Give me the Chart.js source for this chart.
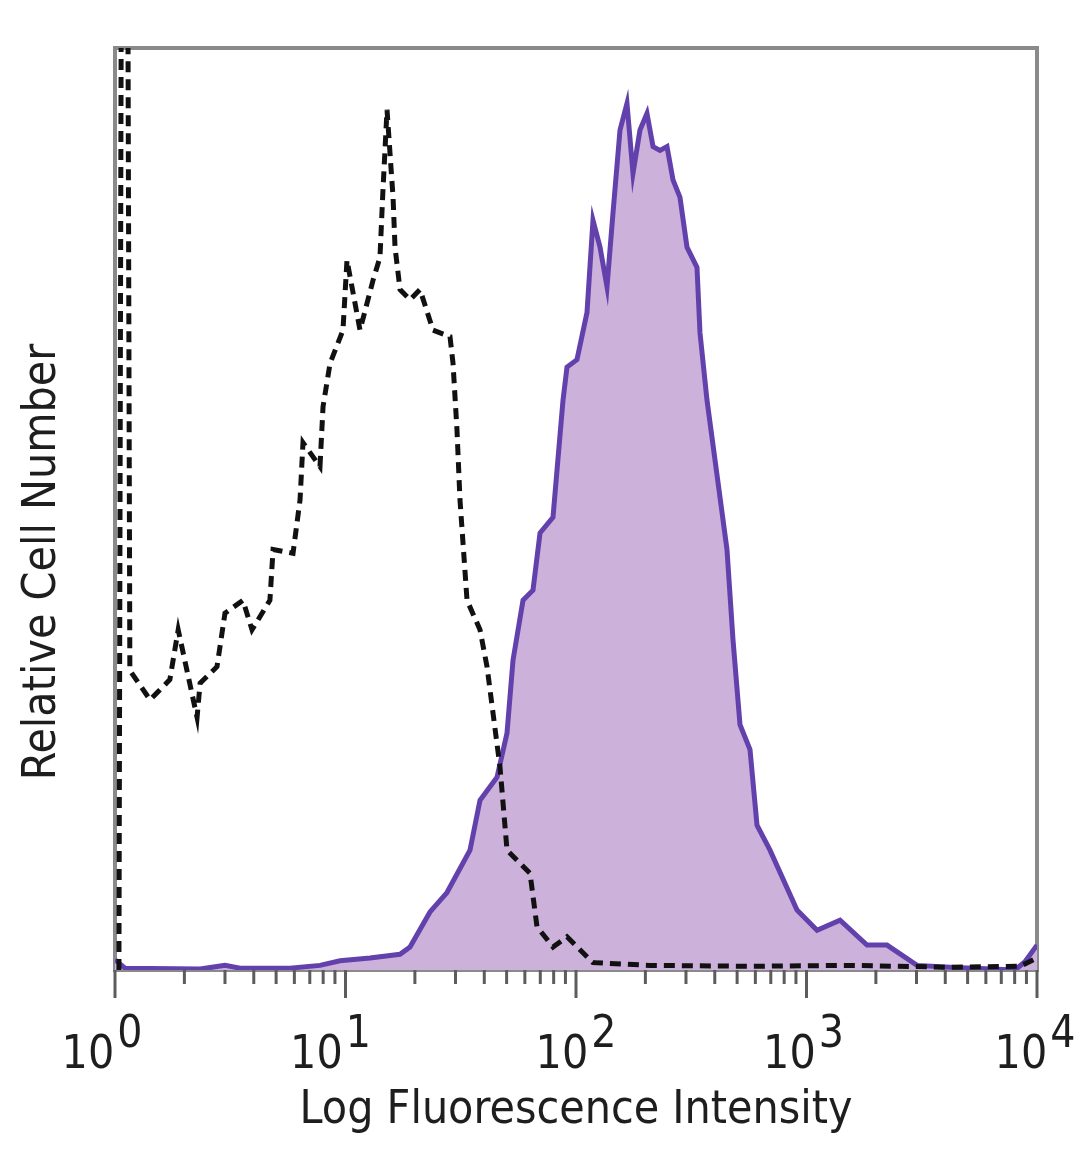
<!DOCTYPE html>
<html><head><meta charset="utf-8">
<script src="https://cdn.jsdelivr.net/npm/chart.js@4.4.1/dist/chart.umd.min.js"></script>
<style>html,body{margin:0;padding:0;background:#fff;}#wrap{width:1080px;height:1169px;position:relative;}</style>
</head><body><div id="wrap"><canvas id="c" width="1080" height="1169"></canvas></div>
<script>
// Isotype control (dashed black)
const isotypeX = [1.04, 1.07, 1.13, 1.16, 1.42, 1.73, 1.88, 2.27, 2.34, 2.77, 3.00, 3.59, 3.93, 4.70, 4.85, 5.92, 6.35, 6.54, 7.75, 7.99, 8.57, 9.75, 10.15, 11.56, 13.16, 14.11, 14.54, 15.14, 16.08, 16.40, 17.24, 19.05, 21.05, 23.97, 28.40, 29.27, 30.45, 31.38, 33.67, 38.33, 41.11, 46.81, 50.20, 63.16, 67.72, 79.47, 91.41, 118.5, 209, 569, 1544, 4194, 8437, 10000];
const isotypeY = [0, 130, 130, 32.5, 29.3, 31.5, 36.9, 27.4, 31.1, 32.9, 38.7, 40.1, 36.9, 40.1, 45.6, 45.2, 51.0, 57.2, 54.6, 61.1, 65.8, 69.4, 77.0, 69.4, 74.8, 77.3, 84.6, 93.3, 83.8, 78.4, 73.8, 72.7, 73.8, 69.4, 68.7, 65.8, 58.6, 51.0, 40.1, 36.9, 32.9, 22.0, 13.0, 10.5, 4.7, 2.5, 3.6, 0.8, 0.5, 0.4, 0.5, 0.3, 0.4, 1.3];
// Stained sample (purple filled)
const stainedX = [1.0, 1.105, 2.34, 3.00, 3.49, 5.74, 7.75, 9.47, 12.78, 17.24, 19.05, 23.26, 27.56, 34.68, 38.33, 45.43, 50.20, 53.30, 58.91, 65.08, 69.81, 79.47, 82.72, 87.83, 91.41, 101.0, 111.6, 118.5, 127.1, 136.3, 144.7, 155.2, 166.4, 176.7, 189.5, 203.2, 215.9, 231.4, 248.2, 263.5, 282.6, 303.0, 334.9, 345.1, 370.1, 409.0, 451.9, 479.9, 514.6, 568.7, 609.9, 694.4, 909.6, 1111, 1398, 1830, 2235, 3016, 4194, 8028, 8870, 10000];
const stainedY = [1.1, 0.2, 0.1, 0.5, 0.2, 0.2, 0.5, 1.0, 1.3, 1.7, 2.5, 6.3, 8.4, 13.0, 18.4, 20.9, 25.7, 33.6, 40.1, 41.2, 47.4, 49.1, 54.2, 61.8, 65.4, 66.2, 71.3, 81.3, 78.4, 74.1, 82.1, 91.1, 94.0, 86.4, 91.1, 92.9, 89.3, 88.9, 89.3, 85.7, 83.8, 78.4, 76.2, 69.1, 61.8, 53.7, 45.6, 35.8, 26.6, 23.9, 15.7, 13.0, 6.5, 4.3, 5.4, 2.7, 2.7, 0.5, 0.3, 0, 0.9, 2.7];
// Axis ticks and labels
const decadeTicks = [1, 10, 100, 1000, 10000];
const tickBase = ['10', '10', '10', '10', '10'];
const tickExp = ['0', '1', '2', '3', '4'];
const minorMultipliers = [2, 3, 4, 5, 6, 7, 8, 9];
const xTitle = 'Log Fluorescence Intensity';
const yTitle = 'Relative Cell Number';

const FONT = "'Liberation Sans Narrow', 'DejaVu Sans Condensed', 'Liberation Sans', sans-serif";
const TEXT = '#1e1e1e';
const labelShift = [-13, -15, 0, -3, -2];

const toPts = (xs, ys) => xs.map((x, i) => ({x: x, y: ys[i]}));

const axesPlugin = {
  id: 'axesPlugin',
  beforeDatasetsDraw(chart) {
    const {ctx, chartArea: a} = chart;
    ctx.save();
    ctx.strokeStyle = '#8a8a8a';
    ctx.lineWidth = 4;
    ctx.strokeRect(a.left, a.top, a.right - a.left, a.bottom - a.top);
    ctx.restore();
  },
  afterDraw(chart) {
    const {ctx, chartArea: a} = chart;
    const x = chart.scales.x;
    ctx.save();
    ctx.strokeStyle = '#5c5c5c';
    ctx.lineWidth = 3;
    const seg = (px, len) => { ctx.beginPath(); ctx.moveTo(px, a.bottom); ctx.lineTo(px, a.bottom + len); ctx.stroke(); };
    decadeTicks.forEach((d, i) => {
      seg(x.getPixelForValue(d), 28);
      if (i < decadeTicks.length - 1) {
        minorMultipliers.forEach(m => seg(x.getPixelForValue(d * m), 14));
      }
    });
    ctx.fillStyle = TEXT;
    ctx.textBaseline = 'alphabetic';
    ctx.textAlign = 'left';
    const baseFont = '46px ' + FONT, expFont = '44px ' + FONT;
    decadeTicks.forEach((d, i) => {
      const px = x.getPixelForValue(d) + labelShift[i];
      ctx.font = baseFont; const wb = ctx.measureText(tickBase[i]).width;
      ctx.font = expFont; const we = ctx.measureText(tickExp[i]).width;
      const start = px - (wb + we + 3) / 2;
      ctx.font = baseFont; ctx.fillText(tickBase[i], start, 1068);
      ctx.font = expFont; ctx.fillText(tickExp[i], start + wb + 3, 1047);
    });
    ctx.translate(55, 562);
    ctx.rotate(-Math.PI / 2);
    ctx.textAlign = 'center';
    ctx.font = '46px ' + FONT;
    ctx.fillText(yTitle, 0, 0);
    ctx.restore();
  }
};

new Chart(document.getElementById('c'), {
  type: 'line',
  data: {
    datasets: [
      {
        label: 'Isotype control',
        data: toPts(isotypeX, isotypeY),
        borderColor: '#111111',
        borderWidth: 5,
        borderDash: [11, 7],
        fill: false,
        pointRadius: 0,
        tension: 0
      },
      {
        label: 'Stained',
        data: toPts(stainedX, stainedY),
        borderColor: '#6341ad',
        backgroundColor: '#ccb2da',
        borderWidth: 5,
        fill: 'origin',
        pointRadius: 0,
        tension: 0
      }
    ]
  },
  options: {
    responsive: false,
    animation: false,
    devicePixelRatio: 1,
    layout: {padding: {left: 115, right: 43, top: 48, bottom: 0}},
    plugins: {legend: {display: false}, tooltip: {enabled: false}},
    scales: {
      x: {
        type: 'logarithmic',
        min: 1,
        max: 10000,
        grid: {display: false},
        border: {display: false},
        ticks: {display: false},
        title: {
          display: true,
          text: xTitle,
          color: TEXT,
          font: {family: FONT, size: 46, lineHeight: 1},
          padding: {top: 0, bottom: 35}
        },
        afterFit(scale) { scale.height = 199; }
      },
      y: {
        display: false,
        min: 0,
        max: 100
      }
    }
  },
  plugins: [axesPlugin]
});
</script>
</body></html>
